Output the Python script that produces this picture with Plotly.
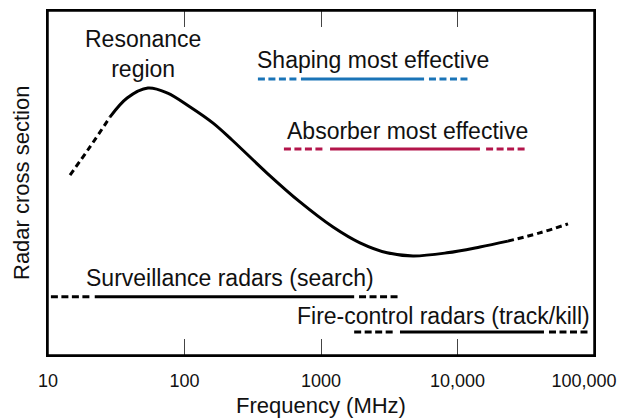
import plotly.graph_objects as go

# Radar cross section curve (arbitrary units, 0-100), frequency in MHz
curve_dash_left_f = [14.5, 20.3, 28.5]
curve_dash_left_v = [52.3, 60.5, 69.2]
curve_solid_f = [28.5, 38, 54, 74.5, 110, 162, 223, 402, 701, 1225, 1930, 3050, 4720, 8370, 14600, 23400]
curve_solid_v = [69.2, 74.7, 77.6, 76.2, 72.1, 67.4, 62.5, 52.9, 44.5, 37.2, 32.6, 29.7, 28.8, 29.7, 31.4, 33.1]
curve_dash_right_f = [23400, 40000, 64500]
curve_dash_right_v = [33.1, 35.5, 38.1]

# Bands: (dashed start, dashed end), (solid start, solid end), (dashed start, dashed end)
shaping_band = [(345, 680), (713, 5690), (6180, 12100)]
absorber_band = [(535, 1035), (1165, 14600), (16200, 31300)]
surveillance_band = [(10.5, 20.7), (22, 1750), (1900, 3720)]
firecontrol_band = [(1750, 3430), (3790, 43000), (46800, 91900)]
band_levels = {"shaping": 80.2, "absorber": 59.9, "surveillance": 16.9, "firecontrol": 6.7}

tick_vals = [10, 100, 1000, 10000, 100000]
tick_text = ["10", "100", "1000", "10,000", "100,000\u00a0\u00a0\u00a0\u00a0"]

BLUE = "#1a74b7"
RED = "#b3154b"
FONT = "Liberation Sans"
TXT = 23

fig = go.Figure()

def add_line(xs, ys, color, dash, width=3, shape="spline"):
    fig.add_trace(go.Scatter(x=xs, y=ys, mode="lines",
                             line=dict(color=color, width=width, dash=dash, shape=shape),
                             hoverinfo="skip", showlegend=False))

add_line(curve_dash_left_f, curve_dash_left_v, "black", "6px,4px")
add_line(curve_solid_f, curve_solid_v, "black", "solid")
add_line(curve_dash_right_f, curve_dash_right_v, "black", "6px,4px")

def add_band(band, level, color):
    for i, (a, b) in enumerate(band):
        dash = "solid" if i == 1 else "7px,3.5px"
        add_line([a, b], [level, level], color, dash, width=3, shape="linear")

add_band(shaping_band, band_levels["shaping"], BLUE)
add_band(absorber_band, band_levels["absorber"], RED)
add_band(surveillance_band, band_levels["surveillance"], "black")
add_band(firecontrol_band, band_levels["firecontrol"], "black")

# invisible trace to activate the top axis carrying mirrored ticks
fig.add_trace(go.Scatter(x=[10, 100000], y=[0, 0], xaxis="x2", mode="lines",
                         line=dict(width=0), opacity=0, hoverinfo="skip", showlegend=False))

def note(text, x, y, anchor="left"):
    fig.add_annotation(x=x, y=y, xref="x", yref="y", text=text, showarrow=False,
                       xanchor=anchor, yanchor="middle",
                       font=dict(family=FONT, size=TXT, color="#111"))

note("Resonance<br>region", 1.696, 87.6, "center")
note("Shaping most effective", 2.516, 85.8)
note("Absorber most effective", 2.736, 65.1)
note("Surveillance radars (search)", 1.264, 22.4)
note("Fire-control radars (track/kill)", 2.810, 11.3)

# Axis titles
fig.add_annotation(x=0.5, y=0, xref="paper", yref="paper", yshift=-50,
                   text="Frequency (MHz)", showarrow=False, xanchor="center", yanchor="middle",
                   font=dict(family=FONT, size=22, color="#111"))
fig.add_annotation(x=0, y=0.5, xref="paper", yref="paper", xshift=-27,
                   text="Radar cross section", textangle=-90, showarrow=False,
                   xanchor="center", yanchor="middle",
                   font=dict(family=FONT, size=22, color="#111"))

# plot frame
fig.add_shape(type="rect", xref="paper", yref="paper", x0=0, y0=0, x1=1, y1=1,
              line=dict(color="black", width=1.5), fillcolor="rgba(0,0,0,0)", layer="above")

# page body adds an 8px offset; margins are set so the plot frame lands where the reference has it
fig.update_layout(
    width=627, height=420,
    margin=dict(l=40, r=41, t=3, b=73),
    paper_bgcolor="white", plot_bgcolor="white",
    font=dict(family=FONT, color="#111"),
    xaxis=dict(type="log", range=[1, 5], tickvals=tick_vals, ticktext=tick_text,
               ticks="inside", ticklen=16, tickwidth=1, tickcolor="#444",
               showline=True, linecolor="black", linewidth=1.5, mirror=True,
               showgrid=False, zeroline=False, automargin=False,
               tickfont=dict(family=FONT, size=18, color="#111"),
               ticklabelstandoff=9, ticklabeloverflow="allow"),
    xaxis2=dict(type="log", range=[1, 5], overlaying="x", side="top", anchor="y",
                tickvals=tick_vals, showticklabels=False,
                ticks="inside", ticklen=16, tickwidth=1, tickcolor="#444",
                showline=True, linecolor="black", linewidth=1.5,
                showgrid=False, zeroline=False, automargin=False),
    yaxis=dict(range=[0, 100], showticklabels=False, ticks="",
               showline=True, linecolor="black", linewidth=1.5, mirror=True,
               showgrid=False, zeroline=False, automargin=False),
)

fig.write_html("out.html")
